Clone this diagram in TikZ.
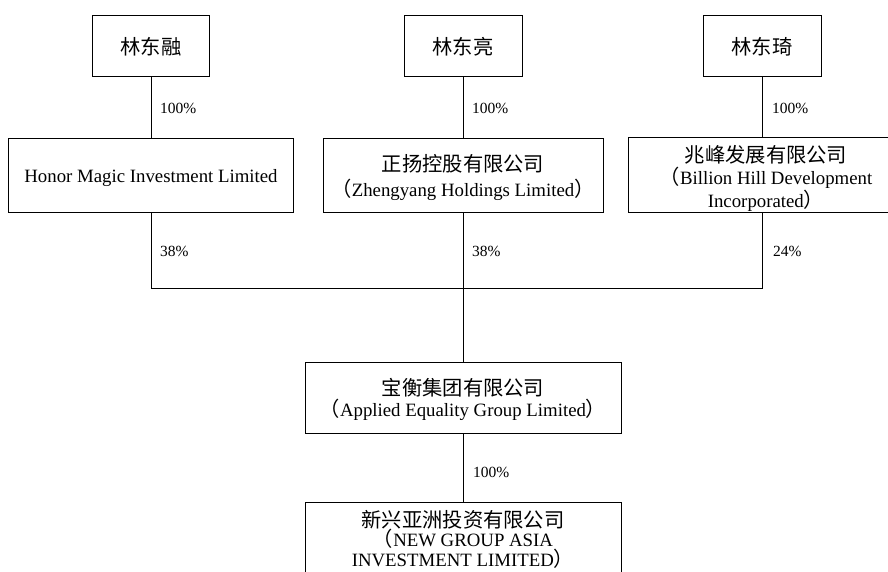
\documentclass[tikz,border=0pt]{standalone}
\usepackage{fontspec}
\setmainfont{Liberation Serif}
\newfontfamily\cjk[Scale=1.08]{Noto Sans CJK SC}
\begin{document}
\begin{tikzpicture}[x=1pt,y=-1pt,
  box/.style={draw=black,line width=1pt,inner sep=0pt},
  txt/.style={inner sep=0pt,align=center,font=\fontsize{18.8}{22}\selectfont},
  pct/.style={anchor=west,inner sep=0pt,font=\fontsize{15.5}{18}\selectfont},
  conn/.style={line width=1pt}]
\useasboundingbox (0,0) rectangle (888,571);
\clip (0,0) rectangle (888,571);
% top owners
\node[box,minimum width=117pt,minimum height=61pt] (A1) at (151,45.5) {};
\node[box,minimum width=118pt,minimum height=61pt] (A2) at (463,45.5) {};
\node[box,minimum width=118pt,minimum height=61pt] (A3) at (762,45.5) {};
\node[txt] (A1t) at ([yshift=-1pt]A1.center) {\cjk 林东融};
\node[txt] (A2t) at ([yshift=-1pt]A2.center) {\cjk 林东亮};
\node[txt] (A3t) at ([yshift=-1pt]A3.center) {\cjk 林东琦};
% holding companies
\node[box,minimum width=285pt,minimum height=74pt] (B1) at (151,175) {};
\node[box,minimum width=280pt,minimum height=74pt] (B2) at (463,175) {};
\node[box,minimum width=276pt,minimum height=75pt] (B3) at (766,174.5) {};
\node[txt] (B1t) at ([yshift=-3pt]B1.center) {Honor Magic Investment Limited};
\node[txt,font=\fontsize{18.8}{25}\selectfont] (B2t) at ([yshift=-2.5pt]B2.center)
  {{\cjk 正扬控股有限公司}\\{\cjk （}Zhengyang Holdings Limited{\cjk ）}};
\node[txt,font=\fontsize{18.8}{22.5}\selectfont] (B3t) at ([yshift=-3.5pt]B3.center)
  {{\cjk 兆峰发展有限公司}\\{\cjk （}Billion Hill Development\\Incorporated{\cjk ）}};
% group
\node[box,minimum width=316pt,minimum height=71pt] (C) at (463,397.5) {};
\node[txt,font=\fontsize{18.8}{20.5}\selectfont] (Ct) at ([yshift=-2pt]C.center)
  {{\cjk 宝衡集团有限公司}\\{\cjk （}Applied Equality Group Limited{\cjk ）}};
\node[box,minimum width=316pt,minimum height=120pt,anchor=north] (D) at (463,502) {};
\node[txt,font=\fontsize{18.8}{19.5}\selectfont,anchor=north] (Dt) at (463,510)
  {{\cjk 新兴亚洲投资有限公司}\\{\cjk （}NEW GROUP ASIA\\INVESTMENT LIMITED{\cjk ）}};
\coordinate (bus) at (463,288);
% connectors
\draw[conn] (A1.south) -- (B1.north);
\draw[conn] (A2.south) -- (B2.north);
\draw[conn] (A3.south) -- (A3.south |- B3.north);
\draw[conn] (B1.south) |- (bus);
\draw[conn] (B2.south) -- (bus);
\draw[conn] (A3.south |- B3.south) |- (bus);
\draw[conn] (bus) -- (C.north);
\draw[conn] (C.south) -- (D.north);
% labels
\node[pct] (p1) at (160,108) {100\%};
\node[pct] (p2) at (472,108) {100\%};
\node[pct] (p3) at (772,108) {100\%};
\node[pct] (p4) at (160,251) {38\%};
\node[pct] (p5) at (472,251) {38\%};
\node[pct] (p6) at (773,251) {24\%};
\node[pct] (p7) at (473,472) {100\%};
\end{tikzpicture}
\end{document}
